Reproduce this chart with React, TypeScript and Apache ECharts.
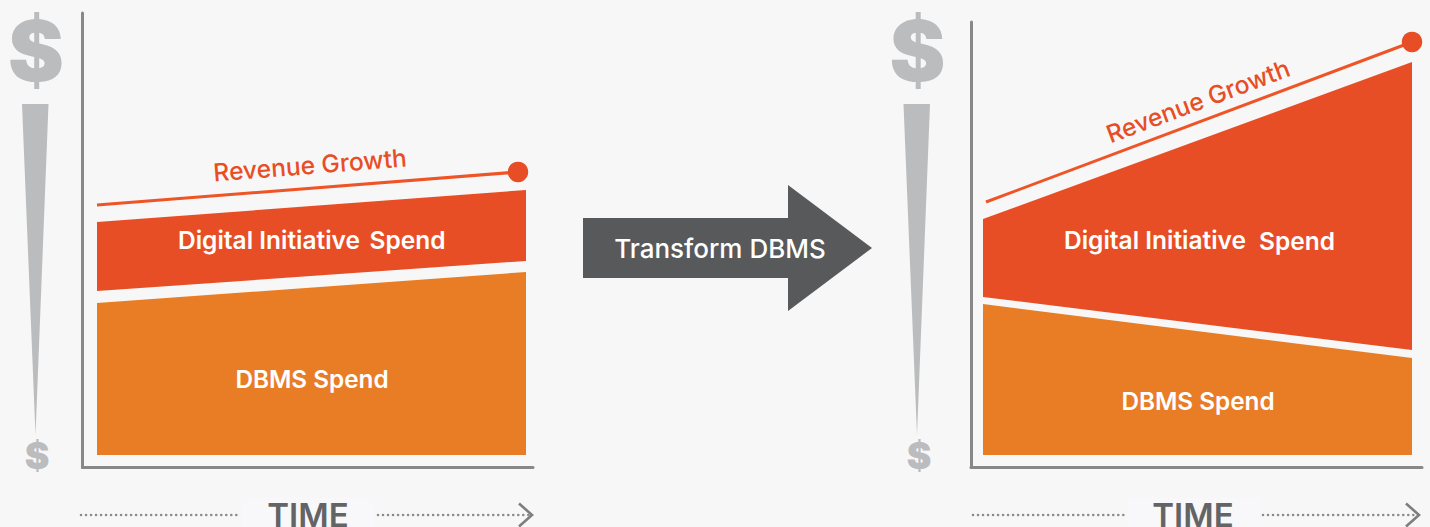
import React, { useEffect, useRef } from "react";
import * as echarts from "echarts";

const leftTime = [14.5, 443.5];
const leftFloor = [12.5, 12.5];
const leftDbms = [164.5, 195.5];
const leftDigitalLow = [176.5, 206.5];
const leftDigitalHigh = [245.5, 277.5];
const leftRevenueTime = [14.5, 435.5];
const leftRevenue = [262.5, 295.5];

const rightTime = [12, 441];
const rightFloor = [12.5, 12.5];
const rightDbms = [163.5, 109.5];
const rightDigitalLow = [170.5, 117.5];
const rightDigitalHigh = [248.5, 405.5];
const rightRevenueTime = [15, 441];
const rightRevenue = [265.5, 425.5];

const ORANGE = "#e97d25";
const RED = "#e84e25";
const LINE = "#ee5426";
const GREY = "#bbbcbe";
const AXIS = "#87888a";
const FONT = "Inter, 'Open Sans', sans-serif";

function band(name: string, idx: number, xs: number[], lo: number[], hi: number[], color: string) {
  return {
    name,
    type: "custom",
    xAxisIndex: idx,
    yAxisIndex: idx,
    z: 2,
    encode: { x: [0, 1], y: [2, 3, 4, 5] },
    data: [[xs[0], xs[1], lo[0], hi[0], lo[1], hi[1]]],
    renderItem: (_p: any, api: any) => {
      const points = [
        api.coord([api.value(0), api.value(2)]),
        api.coord([api.value(0), api.value(3)]),
        api.coord([api.value(1), api.value(5)]),
        api.coord([api.value(1), api.value(4)]),
      ];
      return { type: "polygon", shape: { points }, style: { fill: color } };
    },
  };
}

function revenue(idx: number, xs: number[], ys: number[]) {
  return [
    {
      name: "Revenue Growth",
      type: "line",
      xAxisIndex: idx,
      yAxisIndex: idx,
      symbol: "none",
      lineStyle: { width: 3, color: LINE },
      data: xs.map((x, i) => [x, ys[i]]),
      z: 3,
    },
    {
      name: "Revenue Growth End",
      type: "scatter",
      xAxisIndex: idx,
      yAxisIndex: idx,
      symbolSize: 20.5,
      itemStyle: { color: RED, opacity: 1 },
      data: [[xs[1], ys[1]]],
      z: 4,
    },
  ];
}

function label(text: string, x: number, y: number, size: number, fill: string, rotation = 0, weight = 600) {
  return {
    type: "text",
    x,
    y,
    rotation,
    z: 10,
    style: {
      text,
      x: 0,
      y: 0,
      fill,
      font: `${weight} ${size}px ${FONT}`,
      textAlign: "center",
      textVerticalAlign: "middle",
    },
  };
}

function dollars(cx: number, cxSmall: number) {
  return [
    {
      type: "text",
      x: cx,
      y: 50,
      z: 5,
      style: { text: "$", x: 0, y: 0, fill: GREY, font: "900 84px Inter, sans-serif", textAlign: "center", textVerticalAlign: "middle" },
    },
    {
      type: "text",
      x: cxSmall,
      y: 455,
      z: 5,
      style: { text: "$", x: 0, y: 0, fill: GREY, font: "900 37px Inter, sans-serif", textAlign: "center", textVerticalAlign: "middle" },
    },
    {
      type: "polygon",
      z: 5,
      shape: { points: [[cx - 14, 104], [cx + 12.5, 104], [cx - 0.5, 435]] },
      style: { fill: GREY },
    },
  ];
}

function timeAxis(x1: number, x2: number, x3: number, x4: number, cx: number) {
  const dots = { stroke: "#8a8b8d", lineWidth: 2.6, lineCap: "round", lineDash: [0.01, 5] };
  const arrow = { stroke: "#7d7e80", lineWidth: 2.6, fill: "none" };
  return [
    { type: "rect", z: 4, shape: { x: cx - 66, y: 498, width: 132, height: 29 }, style: { fill: "#f8f8fa" } },
    { type: "line", z: 5, shape: { x1, y1: 515, x2, y2: 515 }, style: dots },
    { type: "line", z: 5, shape: { x1: x3, y1: 515, x2: x4, y2: 515 }, style: dots },
    { type: "polyline", z: 5, shape: { points: [[x4 - 13, 503.5], [x4, 515], [x4 - 13, 526.5]] }, style: arrow },
    {
      type: "text",
      x: cx,
      y: 515,
      z: 6,
      style: { text: "TIME", x: 0, y: 0, fill: "#636466", font: `600 33px ${FONT}`, textAlign: "center", textVerticalAlign: "middle" },
    },
  ];
}

const axisCommon = {
  type: "value",
  axisTick: { show: false },
  axisLabel: { show: false },
  splitLine: { show: false },
  axisLine: { show: true, onZero: false, lineStyle: { color: AXIS, width: 3 } },
};

export default function App() {
  const ref = useRef<HTMLDivElement>(null);
  useEffect(() => {
    document.body.style.margin = "0";
    const chart = echarts.init(ref.current!, null, { renderer: "svg" });
    chart.setOption({
      animation: false,
      backgroundColor: "#f7f7f7",
      grid: [
        { left: 82.5, top: 13, width: 450.5, height: 454.5 },
        { left: 971, top: 22, width: 451, height: 445.5 },
      ],
      xAxis: [
        { ...axisCommon, gridIndex: 0, min: 0, max: 450.5 },
        { ...axisCommon, gridIndex: 1, min: 0, max: 451 },
      ],
      yAxis: [
        { ...axisCommon, gridIndex: 0, min: 0, max: 454.5 },
        { ...axisCommon, gridIndex: 1, min: 0, max: 445.5 },
      ],
      series: [
        band("DBMS Spend", 0, leftTime, leftFloor, leftDbms, ORANGE),
        band("Digital Initiative Spend", 0, leftTime, leftDigitalLow, leftDigitalHigh, RED),
        ...revenue(0, leftRevenueTime, leftRevenue),
        band("DBMS Spend", 1, rightTime, rightFloor, rightDbms, ORANGE),
        band("Digital Initiative Spend", 1, rightTime, rightDigitalLow, rightDigitalHigh, RED),
        ...revenue(1, rightRevenueTime, rightRevenue),
      ],
      graphic: [
        ...dollars(36, 37),
        ...dollars(917.5, 919),
        ...timeAxis(81, 237, 378, 532, 308),
        ...timeAxis(973, 1127, 1263, 1419, 1193),
        { type: "polygon", z: 5, shape: { points: [[583, 218], [788, 218], [788, 185], [872, 248], [788, 311], [788, 278], [583, 278]] }, style: { fill: "#58595b" } },
        label("Transform DBMS", 720, 248, 26, "#ffffff", 0, 500),
        label("Revenue Growth", 310, 165, 24.6, RED, 0.078, 500),
        label("Digital Initiative", 269, 240, 24.5, "#ffffff"),
        label("Spend", 407.5, 240, 24.5, "#ffffff"),
        label("DBMS Spend", 312, 379, 24.3, "#ffffff"),
        label("Revenue Growth", 1198, 101, 24.6, RED, 0.36, 500),
        label("Digital Initiative", 1155, 240, 24.5, "#ffffff"),
        label("Spend", 1297, 241, 24.5, "#ffffff"),
        label("DBMS Spend", 1198, 401, 24.3, "#ffffff"),
      ],
    });
    return () => chart.dispose();
  }, []);
  return <div ref={ref} style={{ position: "absolute", left: 0, top: 0, width: 1430, height: 527 }} />;
}
